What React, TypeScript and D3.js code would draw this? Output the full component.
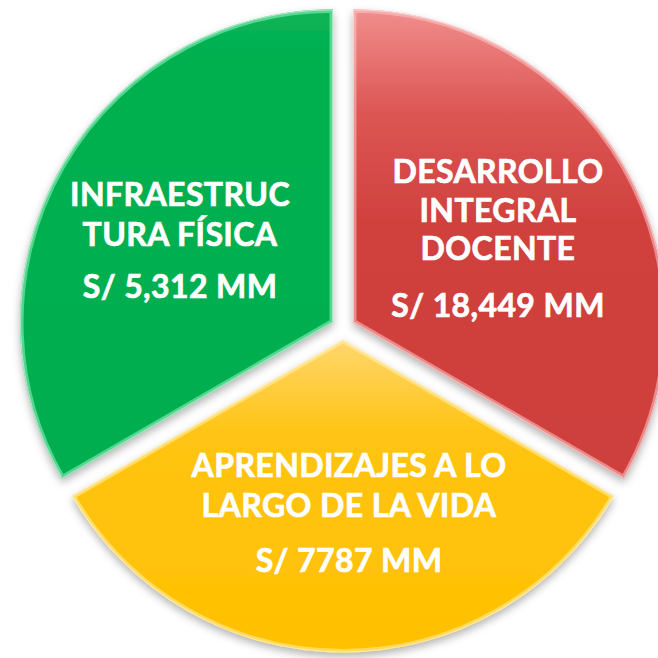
import React from "react";
import * as d3 from "d3";

// ---- data ----
const categories = ["DESARROLLO INTEGRAL DOCENTE", "APRENDIZAJES A LO LARGO DE LA VIDA", "INFRAESTRUCTURA FÍSICA"];
const labelLines = [
  ["DESARROLLO", "INTEGRAL", "DOCENTE"],
  ["APRENDIZAJES A LO", "LARGO DE LA VIDA"],
  ["INFRAESTRUC", "TURA FÍSICA"],
];
const amountLabels = ["S/ 18,449 MM", "S/ 7787 MM", "S/ 5,312 MM"];
const sliceWeights = [1, 1, 1];

const W = 658;
const H = 658;
const CX = 343;
const CY = 328;
const R = 313;
const EXPLODE = 11.5;
const FONT = "Lato, 'Open Sans', sans-serif";
const FS = 32;

const gradients = [
  { id: "gRed", stops: [["0", "#F08E8C"], ["0.22", "#DC5654"], ["0.45", "#D0413E"], ["1", "#CE3F3C"]] },
  { id: "gYel", stops: [["0", "#FFD66E"], ["0.3", "#FFC413"], ["1", "#FFC000"]] },
  { id: "gGrn", stops: [["0", "#0CB457"], ["0.1", "#00B050"], ["1", "#00AE4F"]] },
];
const bevelColors = ["#FFC8C8", "#FFF3B0", "#9AF5C4"];
// label layout per slice: [dx, dy of first baseline from centroid, line spacing, gap to amount]
const labelLayout = [
  [9.5, -61, 38.5, 57],
  [6, -19, 40, 55],
  [-17.5, -38, 40, 52],
];

export default function App() {
  const pie = d3
    .pie<number>()
    .sort(null)
    .value((d) => d)
    .startAngle(0)
    .endAngle(2 * Math.PI);
  const arcs = pie(sliceWeights);
  const arc = d3.arc<d3.PieArcDatum<number>>().innerRadius(0).outerRadius(R);

  return (
    <svg width={W} height={H} style={{ position: "absolute", left: 0, top: 0, background: "#fff" }}>
      <defs>
        {gradients.map((g) => (
          <linearGradient key={g.id} id={g.id} x1="0" y1="0" x2="0" y2="1">
            {g.stops.map(([o, c]) => (
              <stop key={o} offset={o} stopColor={c} />
            ))}
          </linearGradient>
        ))}
        <filter id="shadow" x="-10%" y="-10%" width="120%" height="130%">
          <feDropShadow dx="0" dy="4" stdDeviation="4" floodColor="#000" floodOpacity="0.3" />
        </filter>
        {arcs.map((a, i) => (
          <clipPath key={i} id={`clip${i}`}>
            <path d={arc(a) || ""} />
          </clipPath>
        ))}
      </defs>
      {arcs.map((a, i) => {
        const mid = (a.startAngle + a.endAngle) / 2;
        const ox = Math.sin(mid) * EXPLODE;
        const oy = -Math.cos(mid) * EXPLODE;
        const d = arc(a) || "";
        return (
          <g key={categories[i]} transform={`translate(${CX + ox},${CY + oy})`}>
            <path d={d} fill={`url(#${gradients[i].id})`} filter="url(#shadow)" />
            <g clipPath={`url(#clip${i})`}>
              <path d={d} fill="none" stroke={bevelColors[i]} strokeOpacity={0.55} strokeWidth={7} />
              <path d={d} fill="none" stroke="#ffffff" strokeOpacity={0.5} strokeWidth={2} />
            </g>
          </g>
        );
      })}
      {arcs.map((a, i) => {
        const mid = (a.startAngle + a.endAngle) / 2;
        const ox = Math.sin(mid) * EXPLODE;
        const oy = -Math.cos(mid) * EXPLODE;
        const [cx, cy] = arc.centroid(a);
        const [dx, dy, line, gap] = labelLayout[i];
        const x = CX + ox + cx + dx;
        const y = CY + oy + cy + dy;
        const lines = labelLines[i];
        return (
          <g
            key={`lbl${i}`}
            fontFamily={FONT}
            fontWeight={700}
            fontSize={FS}
            fill="#fff"
            stroke="#fff"
            strokeWidth={0.7}
            letterSpacing={0.4}
            textAnchor="middle"
          >
            {lines.map((t, j) => (
              <text key={t} x={x} y={y + j * line}>
                {t}
              </text>
            ))}
            <text x={x} y={y + (lines.length - 1) * line + gap}>
              {amountLabels[i]}
            </text>
          </g>
        );
      })}
    </svg>
  );
}
